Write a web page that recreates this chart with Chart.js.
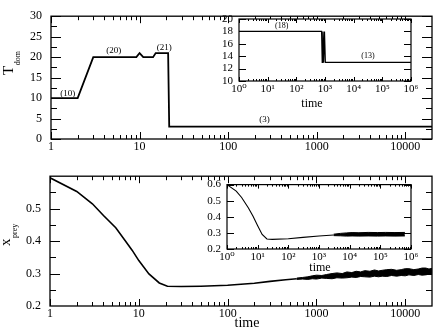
<!DOCTYPE html>
<html>
<head>
<meta charset="utf-8">
<script src="https://cdn.jsdelivr.net/npm/chart.js@4.4.0/dist/chart.umd.min.js"></script>
<style>
  html, body { margin: 0; padding: 0; background: #fff; }
  body { width: 436px; height: 327px; position: relative; overflow: hidden; }
  canvas { position: absolute; }
</style>
</head>
<body>
<canvas id="top" width="436" height="160" style="left:0;top:0"></canvas>
<canvas id="bottom" width="436" height="167" style="left:0;top:160px"></canvas>
<canvas id="topInset" width="236" height="105" style="left:200px;top:5px"></canvas>
<canvas id="bottomInset" width="246" height="105" style="left:190px;top:172px"></canvas>
<script>
const SERIF = "'Liberation Serif', 'DejaVu Serif', serif";

// upper panel: T_dom against time
const tdomTime  = [1, 2, 3, 9.2, 10, 11, 14.2, 15.2, 21, 21.6, 20000];
const tdomValue = [10, 10, 20, 20, 21, 20, 20, 21, 21, 3, 3];
const tdomNoteText = ["(10)", "(20)", "(21)", "(3)"];
const tdomNoteX = [1.55, 5.1, 19, 257];
const tdomNoteY = [11.1, 21.7, 22.2, 4.8];

// upper inset: T_dom over long times
const insetTdomTime  = [1, 760, 800, 850, 900, 960, 1030, 1000000];
const insetTdomValue = [18, 18, 13, 18, 13, 18, 13, 13];
const insetTdomNoteText = ["(18)", "(13)"];
const insetTdomNoteX = [31, 31600];
const insetTdomNoteY = [18.9, 14.1];

// lower panel: x_prey against time
const preyTime  = [1, 2, 3, 4, 5.5, 7, 8.4, 10, 13, 17, 21, 30, 50, 100, 200, 300, 450, 600];
const preyValue = [0.595, 0.553, 0.515, 0.479, 0.441, 0.402, 0.372, 0.34, 0.299, 0.271, 0.261, 0.26, 0.261, 0.264, 0.27, 0.276, 0.281, 0.284];
// noisy band at late times (upper / lower edges)
const preyBandTime = [600, 700, 800, 900, 1000, 1150, 1300, 1500, 1700, 1950, 2200, 2500, 2800, 3150, 3500, 4000, 4500, 5000, 5500, 6200, 7000, 8000, 9000, 10000, 11000, 12500, 14000, 15500, 17000, 18500, 20000];
const preyBandHigh = [0.286, 0.288, 0.290, 0.293, 0.295, 0.294, 0.297, 0.300, 0.302, 0.300, 0.305, 0.303, 0.307, 0.305, 0.309, 0.307, 0.311, 0.308, 0.310, 0.312, 0.313, 0.310, 0.312, 0.315, 0.315, 0.312, 0.314, 0.317, 0.317, 0.314, 0.316];
const preyBandLow  = [0.282, 0.283, 0.282, 0.284, 0.283, 0.286, 0.285, 0.284, 0.287, 0.286, 0.287, 0.289, 0.288, 0.291, 0.290, 0.289, 0.292, 0.290, 0.292, 0.291, 0.294, 0.292, 0.294, 0.293, 0.296, 0.294, 0.297, 0.295, 0.296, 0.298, 0.298];

// lower inset
const insetPreyTime  = [1, 2, 3, 5, 7, 10, 14, 20, 30, 100, 300, 1000, 3000];
const insetPreyValue = [0.6, 0.56, 0.52, 0.455, 0.405, 0.345, 0.29, 0.262, 0.26, 0.264, 0.272, 0.281, 0.287];
const insetBandTime = [3000, 5000, 8000, 12000, 20000, 40000, 80000, 150000, 300000, 630000];
const insetBandHigh = [0.292, 0.297, 0.300, 0.302, 0.301, 0.303, 0.302, 0.303, 0.302, 0.303];
const insetBandLow  = [0.283, 0.282, 0.280, 0.281, 0.280, 0.281, 0.280, 0.281, 0.280, 0.281];

// ticks
const mainTimeTicks = [1, 10, 100, 1000, 10000];
const mainTimeLabels = ["1", "10", "100", "1000", "10000"];
const insetTimeTicks = [1, 10, 100, 1000, 10000, 100000, 1000000];
const insetTimeLabels = ["10\u2070", "10\u00b9", "10\u00b2", "10\u00b3", "10\u2074", "10\u2075", "10\u2076"];
const tdomTicks = [0, 5, 10, 15, 20, 25, 30];
const tdomMinor = [2.5, 7.5, 12.5, 17.5, 22.5, 27.5];
const insetTdomTicks = [10, 12, 14, 16, 18, 20];
const preyTicks = [0.2, 0.3, 0.4, 0.5];
const preyTickMarks = [0.3, 0.4, 0.5];
const preyMinor = [0.25, 0.35, 0.45, 0.55];
const insetPreyTicks = [0.2, 0.3, 0.4, 0.5, 0.6];

function logMinor(from, to, max) {
  const out = [];
  for (let d = from; d < to; d *= 10)
    for (let k = 2; k <= 9; k++) if (d * k < max) out.push(d * k);
  return out;
}

const points = (xs, ys) => xs.map((x, i) => ({ x, y: ys[i] }));
const line = (xs, ys, w, extra) => Object.assign({
  data: points(xs, ys), borderColor: "#000", borderWidth: w, pointRadius: 0, tension: 0, fill: false
}, extra || {});

const framePlugin = {
  id: "frame",
  beforeDatasetsDraw(chart, args, o) {
    if (!o.fill) return;
    const a = chart.chartArea, ctx = chart.ctx;
    ctx.save();
    ctx.fillStyle = "#fff";
    ctx.fillRect(a.left, a.top, a.right - a.left, a.bottom - a.top);
    ctx.restore();
  },
  afterDatasetsDraw(chart, args, o) {
    const { ctx, chartArea: a } = chart;
    const sx = chart.scales.x, sy = chart.scales.y;
    ctx.save();
    ctx.strokeStyle = "#000";
    ctx.lineWidth = 1;
    ctx.beginPath();
    const vt = (v, len) => {
      const p = Math.round(sx.getPixelForValue(v)) + 0.5;
      ctx.moveTo(p, a.bottom); ctx.lineTo(p, a.bottom - len);
      ctx.moveTo(p, a.top); ctx.lineTo(p, a.top + len);
    };
    const ht = (v, len) => {
      const p = Math.round(sy.getPixelForValue(v)) + 0.5;
      ctx.moveTo(a.left, p); ctx.lineTo(a.left + len, p);
      ctx.moveTo(a.right, p); ctx.lineTo(a.right - len, p);
    };
    o.xMajor.forEach(v => vt(v, o.xMajorLen));
    o.xMinor.forEach(v => vt(v, o.xMinorLen));
    o.yMajor.forEach(v => ht(v, o.yMajorLen));
    (o.yMinor || []).forEach(v => ht(v, o.yMinorLen));
    ctx.stroke();
    ctx.lineWidth = o.lw;
    ctx.strokeRect(a.left, a.top, a.right - a.left, a.bottom - a.top);
    ctx.restore();
  }
};

const notesPlugin = {
  id: "notes",
  afterDatasetsDraw(chart, args, o) {
    if (!o.text) return;
    const ctx = chart.ctx;
    ctx.save();
    ctx.fillStyle = "#000";
    ctx.font = o.size + "px " + SERIF;
    ctx.textAlign = "center";
    ctx.textBaseline = "middle";
    o.text.forEach((t, i) => {
      ctx.fillText(t, chart.scales.x.getPixelForValue(o.xs[i]), chart.scales.y.getPixelForValue(o.ys[i]));
    });
    ctx.restore();
  }
};

const axisTextPlugin = {
  id: "axisText",
  afterDraw(chart, args, o) {
    const ctx = chart.ctx;
    ctx.save();
    ctx.fillStyle = "#000";
    if (o.ylab) {
      const l = o.ylab;
      ctx.translate(l.x, l.y);
      ctx.rotate(-Math.PI / 2);
      ctx.textAlign = "left";
      ctx.textBaseline = "alphabetic";
      ctx.font = l.size + "px " + SERIF;
      ctx.fillText(l.main, 0, 0);
      const w = ctx.measureText(l.main).width;
      ctx.font = l.subSize + "px " + SERIF;
      ctx.fillText(l.sub, w + 0.5, l.off);
      ctx.setTransform(1, 0, 0, 1, 0, 0);
    }
    if (o.xlab) {
      ctx.font = o.xlab.size + "px " + SERIF;
      ctx.textAlign = "center";
      ctx.textBaseline = "middle";
      ctx.fillText(o.xlab.text, o.xlab.x, o.xlab.y);
    }
    ctx.restore();
  }
};

function panel(id, o) {
  return new Chart(document.getElementById(id), {
    type: "line",
    data: { datasets: o.datasets },
    options: {
      responsive: false,
      animation: false,
      devicePixelRatio: 1,
      layout: { padding: o.padding },
      plugins: {
        legend: { display: false },
        tooltip: { enabled: false },
        frame: o.frame,
        notes: o.notes || {},
        axisText: o.axisText || {}
      },
      scales: {
        x: {
          type: "logarithmic", min: o.xMin, max: o.xMax,
          grid: { display: false, drawTicks: false }, border: { display: false },
          afterBuildTicks: s => { s.ticks = o.xTicks.map(v => ({ value: v })); },
          afterFit: s => { s.height = o.xHeight; },
          ticks: {
            autoSkip: false, maxRotation: 0, padding: o.xPad, color: "#000",
            font: { family: SERIF, size: o.tickSize },
            callback: (v, i) => o.xLabels[i]
          }
        },
        y: {
          type: "linear", min: o.yMin, max: o.yMax,
          grid: { display: false, drawTicks: false }, border: { display: false },
          afterBuildTicks: s => { s.ticks = o.yTicks.map(v => ({ value: v })); },
          afterFit: s => { s.width = o.yWidth; },
          ticks: {
            autoSkip: false, padding: o.yPad, color: "#000",
            font: { family: SERIF, size: o.tickSize },
            callback: (v, i) => o.yLabels[i]
          }
        }
      }
    },
    plugins: [framePlugin, notesPlugin, axisTextPlugin]
  });
}

panel("top", {
  datasets: [line(tdomTime, tdomValue, 1.8)],
  padding: { left: 0, right: 4, top: 4, bottom: 0 },
  xMin: 1, xMax: 20000, xTicks: mainTimeTicks, xLabels: mainTimeLabels, xHeight: 21, xPad: 1,
  yMin: 0, yMax: 30, yTicks: tdomTicks, yLabels: tdomTicks.map(String), yWidth: 51, yPad: 9,
  tickSize: 12,
  frame: { lw: 1.3, xMajor: mainTimeTicks, xMinor: logMinor(1, 20000, 20000), xMajorLen: 7, xMinorLen: 4,
           yMajor: tdomTicks, yMinor: tdomMinor, yMajorLen: 10, yMinorLen: 6 },
  notes: { text: tdomNoteText, xs: tdomNoteX, ys: tdomNoteY, size: 9 },
  axisText: { ylab: { x: 13, y: 75, main: "T", sub: "dom", size: 15, subSize: 8, off: 7 } }
});

panel("bottom", {
  datasets: [
    line(preyTime, preyValue, 1.6),
    line(preyBandTime, preyBandHigh, 1),
    line(preyBandTime, preyBandLow, 1, { fill: "-1", backgroundColor: "#000" })
  ],
  padding: { left: 0, right: 4, top: 9, bottom: 0 },
  xMin: 1, xMax: 20000, xTicks: mainTimeTicks, xLabels: mainTimeLabels, xHeight: 21, xPad: 1,
  yMin: 0.2, yMax: 0.6, yTicks: preyTicks, yLabels: ["0.2", "0.3", "0.4", "0.5"], yWidth: 50, yPad: 9,
  tickSize: 12,
  frame: { lw: 1.3, xMajor: mainTimeTicks, xMinor: logMinor(1, 20000, 20000), xMajorLen: 7, xMinorLen: 4,
           yMajor: preyTickMarks, yMinor: preyMinor, yMajorLen: 10, yMinorLen: 6 },
  axisText: {
    ylab: { x: 10, y: 86, main: "x", sub: "prey", size: 15, subSize: 8, off: 7 },
    xlab: { text: "time", x: 247, y: 163, size: 14 }
  }
});

panel("topInset", {
  datasets: [line(insetTdomTime, insetTdomValue, 1.2)],
  padding: { left: 0, right: 25, top: 14, bottom: 0 },
  xMin: 1, xMax: 1000000, xTicks: insetTimeTicks, xLabels: insetTimeLabels, xHeight: 29, xPad: 2,
  yMin: 10, yMax: 20, yTicks: insetTdomTicks, yLabels: insetTdomTicks.map(String), yWidth: 39, yPad: 6,
  tickSize: 11,
  frame: { fill: true, lw: 1.2, xMajor: insetTimeTicks, xMinor: logMinor(1, 1000000, 1000000), xMajorLen: 4, xMinorLen: 2,
           yMajor: insetTdomTicks, yMajorLen: 7 },
  notes: { text: insetTdomNoteText, xs: insetTdomNoteX, ys: insetTdomNoteY, size: 8 },
  axisText: { xlab: { text: "time", x: 112, y: 99, size: 12 } }
});

panel("bottomInset", {
  datasets: [
    line(insetPreyTime, insetPreyValue, 1.1),
    line(insetBandTime, insetBandHigh, 1),
    line(insetBandTime, insetBandLow, 1, { fill: "-1", backgroundColor: "#000" })
  ],
  padding: { left: 0, right: 25, top: 10, bottom: 0 },
  xMin: 1, xMax: 1000000, xTicks: insetTimeTicks, xLabels: insetTimeLabels, xHeight: 28, xPad: 2,
  yMin: 0.2, yMax: 0.6, yTicks: insetPreyTicks, yLabels: ["0.2", "0.3", "0.4", "0.5", "0.6"], yWidth: 37, yPad: 6,
  tickSize: 11,
  frame: { fill: true, lw: 1.2, xMajor: insetTimeTicks, xMinor: logMinor(1, 1000000, 1000000), xMajorLen: 4, xMinorLen: 2,
           yMajor: insetPreyTicks, yMajorLen: 7 },
  axisText: { xlab: { text: "time", x: 130, y: 96, size: 12 } }
});
</script>
</body>
</html>
